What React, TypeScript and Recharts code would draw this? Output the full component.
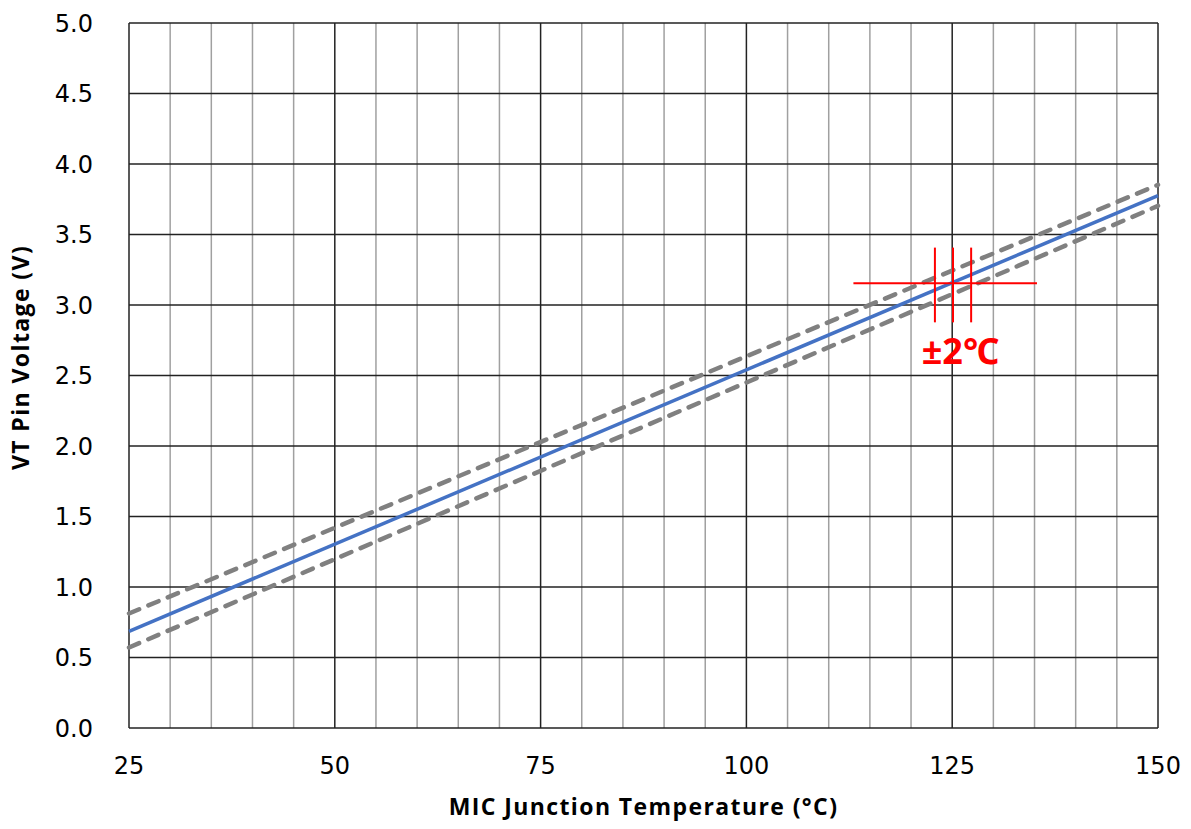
import React from 'react';
import { LineChart, Line, XAxis, YAxis, ReferenceLine, ReferenceArea, Label } from 'recharts';

// Temperature (°C) endpoints
const temps = [25, 150];
const vtTypical = [0.686, 3.776];
const vtUpper = [0.812, 3.852];
const vtLower = [0.571, 3.703];

const xTicks = [25, 50, 75, 100, 125, 150];
const yTicks = [0, 0.5, 1, 1.5, 2, 2.5, 3, 3.5, 4, 4.5, 5];
const xMinor = [30, 35, 40, 45, 55, 60, 65, 70, 80, 85, 90, 95, 105, 110, 115, 120, 130, 135, 140, 145];

// ±2°C annotation
const annoVoltage = 3.155;
const annoHRange = [113, 135.3];
const annoVTemps = [122.9, 125.1, 127.3];
const annoVRange = [2.877, 3.407];
const annoText = '±2℃';
const annoBoxX = [119.5, 132.5];
const annoBoxY = [2.515, 2.825];

const xTitle = 'MIC Junction Temperature (°C)';
const yTitle = 'VT Pin Voltage (V)';

const data = temps.map((t, i) => ({
  t,
  typ: vtTypical[i],
  up: vtUpper[i],
  lo: vtLower[i],
}));

const tickFont = { fontFamily: '"DejaVu Sans", Verdana, sans-serif', fontSize: 24, fill: '#000' };
const titleFont = {
  fontFamily: '"Open Sans", "Noto Sans", sans-serif',
  fontSize: 23,
  fontWeight: 700,
  fill: '#000',
  letterSpacing: 1.4,
};

const YTitle = (props: any) => {
  const vb = props.viewBox || { x: 0, y: 15, width: 121, height: 705 };
  const x = vb.x + 12;
  const y = vb.y + vb.height / 2 - 18;
  return (
    <text
      x={x}
      y={y}
      transform={`rotate(-90, ${x}, ${y})`}
      textAnchor="middle"
      dominantBaseline="central"
      style={titleFont}
    >
      {yTitle}
    </text>
  );
};

export default function App() {
  return (
    <LineChart
      width={1175}
      height={813}
      data={data}
      margin={{ top: 15, right: 25, left: 0, bottom: 0 }}
    >
      <XAxis
        dataKey="t"
        type="number"
        domain={[25, 150]}
        ticks={xTicks}
        tickLine={false}
        axisLine={false}
        tickSize={0}
        tickMargin={29}
        tick={tickFont}
        height={93}
        interval={0}
      >
        <Label value={xTitle} position="insideBottom" offset={6} style={titleFont} />
      </XAxis>
      <YAxis
        type="number"
        domain={[0, 5]}
        ticks={yTicks}
        tickFormatter={(v: number) => v.toFixed(1)}
        tickLine={false}
        axisLine={false}
        tickSize={0}
        tickMargin={36}
        tick={tickFont}
        width={121}
        interval={0}
      >
        <Label content={YTitle} />
      </YAxis>

      {xMinor.map((x) => (
        <ReferenceLine key={'mx' + x} x={x} stroke="#a0a0a0" strokeWidth={1.5} />
      ))}
      {xTicks.map((x) => (
        <ReferenceLine key={'Mx' + x} x={x} stroke="#222" strokeWidth={1.5} />
      ))}
      {yTicks.map((y) => (
        <ReferenceLine key={'My' + y} y={y} stroke="#222" strokeWidth={1.5} />
      ))}

      <ReferenceArea
        x1={annoBoxX[0]}
        x2={annoBoxX[1]}
        y1={annoBoxY[0]}
        y2={annoBoxY[1]}
        fill="#fff"
        fillOpacity={1}
        stroke="none"
      >
        <Label
          value={annoText}
          position="center"
          style={{ fontFamily: '"Noto Sans", "Noto Sans CJK JP", sans-serif', fontSize: 36, fontWeight: 700, fill: '#ff0000' }}
        />
      </ReferenceArea>

      <Line dataKey="up" stroke="#808080" strokeWidth={4.5} strokeDasharray="11 10" strokeLinecap="round" dot={false} isAnimationActive={false} />
      <Line dataKey="lo" stroke="#808080" strokeWidth={4.5} strokeDasharray="11 10" strokeLinecap="round" dot={false} isAnimationActive={false} />
      <Line dataKey="typ" stroke="#4472C4" strokeWidth={3.5} dot={false} isAnimationActive={false} />

      <ReferenceLine
        segment={[{ x: annoHRange[0], y: annoVoltage }, { x: annoHRange[1], y: annoVoltage }]}
        stroke="#ff0000"
        strokeWidth={2}
      />
      {annoVTemps.map((x) => (
        <ReferenceLine
          key={'av' + x}
          segment={[{ x, y: annoVRange[0] }, { x, y: annoVRange[1] }]}
          stroke="#ff0000"
          strokeWidth={2}
        />
      ))}
    </LineChart>
  );
}
